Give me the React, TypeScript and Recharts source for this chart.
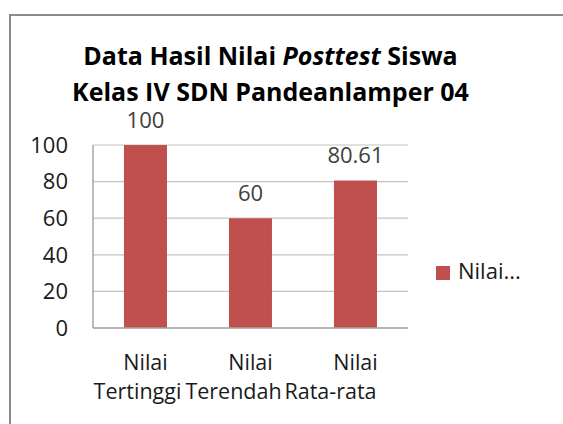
import React from 'react';
import { BarChart, Bar, XAxis, YAxis, CartesianGrid, Legend, LabelList } from 'recharts';

const categories = ['Nilai Tertinggi', 'Nilai Terendah', 'Nilai Rata-rata'];
const nilaiValues = [100, 60, 80.61];
const yTicks = [0, 20, 40, 60, 80, 100];
const seriesName = 'Nilai...';

const data = categories.map((c, i) => ({ kategori: c, nilai: nilaiValues[i] }));

const FONT = '"Open Sans", sans-serif';
const TEXT = '#1a1a1a';
// second-line shift of the wrapped category labels (as laid out in the reference)
const secondLineShift = [-8, -17, -25];

function XTick(props: any) {
  const { x, y, payload, index } = props;
  const words = String(payload.value).split(' ');
  return (
    <text x={x} y={y} textAnchor="middle" fill={TEXT} fontSize={21.5} fontFamily={FONT}>
      {words.map((w, i) => (
        <tspan key={i} x={i === 0 ? x : x + (secondLineShift[index] || 0)} dy={i === 0 ? 42 : 29}>
          {w}
        </tspan>
      ))}
    </text>
  );
}

const titleLine: React.CSSProperties = {
  position: 'absolute',
  left: 0,
  width: 541,
  textAlign: 'center',
  fontFamily: FONT,
  fontWeight: 700,
  fontSize: 25,
  lineHeight: '20px',
  height: 20,
  color: '#000',
  whiteSpace: 'nowrap',
  zIndex: 2,
};

export default function App() {
  return (
    <div
      style={{
        position: 'absolute',
        left: 0,
        top: 0,
        width: 563,
        height: 424,
        overflow: 'hidden',
        background: '#fff',
        fontFamily: FONT,
      }}
    >
      <div
        style={{
          position: 'absolute',
          left: 9,
          top: 14,
          width: 700,
          height: 600,
          borderLeft: '2px solid #8c8c8c',
          borderTop: '2px solid #8c8c8c',
        }}
      />
      <div style={{ ...titleLine, top: 45 }}>
        Data Hasil Nilai <i>Posttest</i> Siswa
      </div>
      <div style={{ ...titleLine, top: 81 }}>Kelas IV SDN Pandeanlamper 04</div>
      <BarChart
        width={563}
        height={424}
        data={data}
        margin={{ top: 145, right: 155, bottom: 36, left: 0 }}
        barCategoryGap="29.5%"
        style={{ position: 'absolute', left: 0, top: 0 }}
      >
        <CartesianGrid vertical={false} stroke="#c4c4c4" strokeWidth={1.2} />
        <XAxis
          dataKey="kategori"
          height={60}
          tickLine={false}
          tickSize={0}
          tickMargin={0}
          axisLine={{ stroke: '#a6a6a6', strokeWidth: 1.5 }}
          tick={<XTick />}
          interval={0}
        />
        <YAxis
          width={93}
          domain={[0, 100]}
          ticks={yTicks}
          tickLine={false}
          tickSize={0}
          tickMargin={25}
          axisLine={{ stroke: '#a6a6a6', strokeWidth: 1.5 }}
          tick={{ fill: TEXT, fontSize: 22, fontFamily: FONT }}
        />
        <Legend
          layout="horizontal"
          verticalAlign="middle"
          align="center"
          iconType="square"
          iconSize={14}
          wrapperStyle={{ left: 436, top: 255, width: 'auto', fontFamily: FONT, fontSize: 22 }}
          formatter={(v: any) => <span style={{ color: TEXT, marginLeft: 4 }}>{v}</span>}
        />
        <Bar dataKey="nilai" name={seriesName} fill="#C0504D" isAnimationActive={false}>
          <LabelList
            dataKey="nilai"
            position="top"
            offset={17}
            fill="#404040"
            fontSize={22}
            fontFamily={FONT}
          />
        </Bar>
      </BarChart>
    </div>
  );
}
